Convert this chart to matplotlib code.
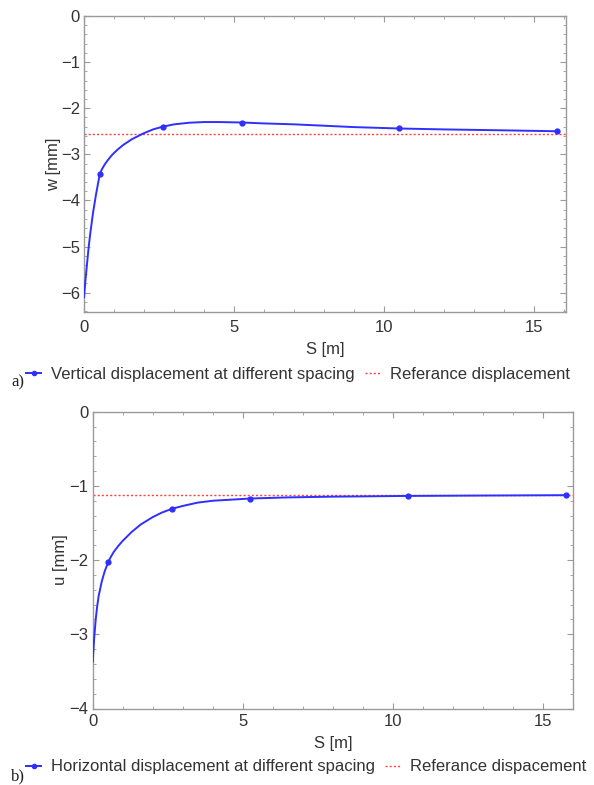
import matplotlib
matplotlib.use("Agg")
import matplotlib.pyplot as plt
from matplotlib.ticker import MultipleLocator
from matplotlib.lines import Line2D

# ---------------- data ----------------
spacing = [0.525, 2.625, 5.25, 10.5, 15.75]

# (a) vertical displacement
w_points = [-3.43, -2.40, -2.31, -2.44, -2.50]
w_curve_s = [0.0, 0.05, 0.1, 0.15, 0.2, 0.3, 0.4, 0.525, 0.6, 0.7, 0.8, 0.9,
             1.0, 1.15, 1.3, 1.6, 2.0, 2.3, 2.625, 3.0, 3.5, 4.0, 4.5, 5.25,
             6.0, 7.0, 8.0, 9.0, 10.5, 12.0, 14.0, 15.75]
w_curve = [-6.10, -5.72, -5.38, -5.05, -4.76, -4.27, -3.87, -3.43, -3.32,
           -3.21, -3.12, -3.04, -2.97, -2.88, -2.80, -2.67, -2.54, -2.46,
           -2.40, -2.35, -2.315, -2.30, -2.30, -2.31, -2.33, -2.35, -2.38,
           -2.41, -2.44, -2.46, -2.48, -2.50]
w_ref = -2.56

# (b) horizontal displacement
u_points = [-2.02, -1.31, -1.17, -1.135, -1.125]
u_curve_s = [0.0, 0.05, 0.1, 0.15, 0.2, 0.3, 0.4, 0.525, 0.6, 0.7, 0.85, 1.0,
             1.15, 1.3, 1.6, 2.0, 2.3, 2.625, 3.0, 3.5, 4.0, 5.25, 6.5, 8.0,
             10.5, 13.0, 15.75]
u_curve = [-3.37, -3.05, -2.80, -2.62, -2.48, -2.29, -2.15, -2.02, -1.96,
           -1.89, -1.81, -1.74, -1.68, -1.62, -1.52, -1.42, -1.36, -1.31,
           -1.27, -1.225, -1.20, -1.17, -1.155, -1.145, -1.135, -1.13, -1.125]
u_ref = -1.12

xlabel = "S [m]"
labels_a = ["Vertical displacement at different spacing", "Referance displacement"]
labels_b = ["Horizontal displacement at different spacing", "Referance dispacement"]

# ---------------- style ----------------
plt.rcParams['font.family'] = ['Liberation Sans', 'DejaVu Sans']
BLUE = '#2f2fff'
RED = '#ff4040'
GREY = '#9a9a9a'
TXT = '#333333'
FS = 12

fig = plt.figure(figsize=(5.94, 7.85), dpi=100)

def style(ax, xlim, ylim, ymaj, ymin, xpad):
    ax.set_xlim(*xlim)
    ax.set_ylim(*ylim)
    ax.xaxis.set_major_locator(MultipleLocator(5))
    ax.xaxis.set_minor_locator(MultipleLocator(1))
    ax.yaxis.set_major_locator(MultipleLocator(ymaj))
    ax.yaxis.set_minor_locator(MultipleLocator(ymin))
    for sp in ax.spines.values():
        sp.set_color(GREY)
        sp.set_linewidth(1.0)
    ax.tick_params(which='both', direction='in', top=True, right=True,
                   colors=GREY, labelcolor=TXT, labelsize=FS, pad=3)
    ax.tick_params(axis='x', which='both', pad=xpad)
    ax.tick_params(which='major', length=4, width=0.8)
    ax.tick_params(which='minor', length=2, width=0.6)
    ax.set_xlabel(xlabel, fontsize=FS, color=TXT, labelpad=5)

# ---- top panel ----
ax1 = fig.add_axes([84/594, 1-312/785, (566-84)/594, (312-16)/785])
ax1.plot(w_curve_s, w_curve, color=BLUE, lw=1.4, zorder=3)
ax1.plot(spacing, w_points, 'o', color=BLUE, ms=3.5, zorder=4)
ax1.axhline(w_ref, color=RED, lw=1.0, ls=(0, (1.5, 1.5)), zorder=2)
style(ax1, (0, 16.05), (-6.42, 0), 1, 0.2, 6)
ax1.set_ylabel("w [mm]", fontsize=FS, color=TXT, labelpad=0)

# ---- bottom panel ----
ax2 = fig.add_axes([92.7/594, 1-708.5/785, (573.3-92.7)/594, (708.5-411.7)/785])
ax2.plot(u_curve_s, u_curve, color=BLUE, lw=1.4, zorder=3)
ax2.plot(spacing, u_points, 'o', color=BLUE, ms=3.5, zorder=4)
ax2.axhline(u_ref, color=RED, lw=1.0, ls=(0, (1.5, 1.5)), zorder=2)
style(ax2, (0, 16.0), (-4, 0), 1, 0.2, 4)
ax2.set_ylabel("u [mm]", fontsize=FS, color=TXT, labelpad=1)

# ---- legends ----
def legend(labels, y):
    handles = [Line2D([], [], color=BLUE, lw=1.4, marker='o', ms=3.0),
               Line2D([], [], color=RED, lw=1.0, ls=(0, (1.5, 1.5)))]
    lg = fig.legend(handles, labels, loc='center left',
                    bbox_to_anchor=(26/594, y), ncol=2, frameon=False,
                    fontsize=FS, handlelength=0.9, handletextpad=0.6,
                    columnspacing=0.6, borderpad=0, borderaxespad=0)
    for t in lg.get_texts():
        t.set_color(TXT)

legend(labels_a, 1-374/785)
legend(labels_b, 1-767/785)

fig.text(11/594, 1-382/785, "a)", fontsize=FS, family=['Liberation Serif', 'DejaVu Serif'],
         color='#222222', va='center', ha='left')
fig.text(11/594, 1-776/785, "b)", fontsize=FS, family=['Liberation Serif', 'DejaVu Serif'],
         color='#222222', va='center', ha='left')

fig.savefig("out.png", dpi=100)
